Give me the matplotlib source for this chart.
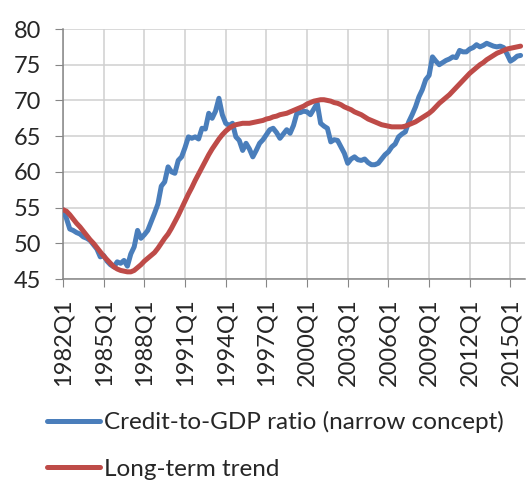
import matplotlib
matplotlib.use("Agg")
import matplotlib.pyplot as plt
import numpy as np

plt.rcParams['font.family'] = ['Lato', 'DejaVu Sans']

# quarterly data 1982Q1 .. 2015Q4
credit_to_gdp = [
    54.7, 53.5, 52.0, 51.8,   # 1982
    51.5, 51.3, 50.9, 50.7,   # 1983
    50.4, 49.8, 49.2, 48.1,   # 1984
    48.3, 47.5, 47.0, 46.7,   # 1985
    47.4, 47.2, 47.6, 46.8,   # 1986
    48.5, 49.5, 51.8, 50.7,   # 1987
    51.2, 51.8, 53.0, 54.2,   # 1988
    55.5, 58.0, 58.6, 60.7,   # 1989
    60.0, 59.8, 61.6, 62.1,   # 1990
    63.4, 64.9, 64.7, 64.9,   # 1991
    64.6, 66.1, 66.0, 68.2,   # 1992
    67.5, 68.5, 70.3, 68.0,   # 1993
    66.8, 66.5, 66.8, 64.9,   # 1994
    64.4, 63.0, 64.0, 63.2,   # 1995
    62.1, 63.0, 64.0, 64.5,   # 1996
    65.2, 65.9, 66.1, 65.5,   # 1997
    64.7, 65.3, 65.9, 65.4,   # 1998
    66.5, 68.2, 68.3, 68.5,   # 1999
    68.4, 68.0, 68.8, 69.6,   # 2000
    66.8, 66.4, 66.1, 64.2,   # 2001
    64.5, 64.4, 63.5, 62.6,   # 2002
    61.2, 61.8, 62.1, 61.7,   # 2003
    61.6, 61.8, 61.3, 61.0,   # 2004
    61.0, 61.2, 61.8, 62.4,   # 2005
    62.8, 63.5, 63.9, 64.9,   # 2006
    65.3, 65.6, 67.0, 68.0,   # 2007
    69.1, 70.5, 71.5, 72.9,   # 2008
    73.5, 76.1, 75.5, 75.0,   # 2009
    75.3, 75.6, 75.8, 76.1,   # 2010
    76.0, 77.0, 76.8, 76.8,   # 2011
    77.2, 77.4, 77.8, 77.5,   # 2012
    77.7, 78.0, 77.8, 77.6,   # 2013
    77.5, 77.6, 77.4, 76.5,   # 2014
    75.5, 75.8, 76.2, 76.3,   # 2015
]

long_term_trend = [
    54.7, 54.5, 54.0, 53.4,
    52.8, 52.3, 51.7, 51.1,
    50.5, 50.0, 49.4, 48.8,
    48.2, 47.7, 47.2, 46.7,
    46.4, 46.2, 46.1, 46.0,
    46.0, 46.2, 46.6, 47.0,
    47.5, 47.9, 48.3, 48.7,
    49.3, 50.0, 50.7, 51.3,
    52.1, 53.0, 53.9, 54.9,
    55.9, 56.9, 57.8, 58.8,
    59.7, 60.6, 61.5, 62.4,
    63.2, 63.9, 64.6, 65.2,
    65.7, 66.1, 66.4, 66.6,
    66.7, 66.8, 66.8, 66.8,
    66.9, 67.0, 67.1, 67.2,
    67.4, 67.5, 67.7, 67.8,
    68.0, 68.1, 68.2, 68.4,
    68.6, 68.8, 69.0, 69.2,
    69.5, 69.7, 69.9, 70.0,
    70.1, 70.1, 70.0, 69.9,
    69.7, 69.6, 69.4, 69.1,
    68.9, 68.7, 68.4, 68.2,
    68.0, 67.7, 67.4, 67.2,
    67.0, 66.8, 66.6, 66.5,
    66.4, 66.3, 66.3, 66.3,
    66.3, 66.4, 66.6, 66.8,
    67.0, 67.3, 67.6, 67.9,
    68.2, 68.6, 69.1, 69.6,
    70.0, 70.4, 70.8, 71.3,
    71.8, 72.3, 72.8, 73.3,
    73.8, 74.2, 74.6, 75.0,
    75.3, 75.7, 76.0, 76.3,
    76.6, 76.8, 77.0, 77.2,
    77.3, 77.4, 77.5, 77.6,
]

start_year = 1982
quarters = [f"{start_year + i // 4}Q{i % 4 + 1}" for i in range(len(credit_to_gdp))]
tick_step = 12  # every three years

x = np.arange(len(quarters))

fig = plt.figure(figsize=(5.26, 4.8), dpi=100)
ax = fig.add_axes([63 / 526, 1 - 279 / 480, 462 / 526, 250 / 480])

ax.plot(x, credit_to_gdp, color='#4A7EBB', lw=3.6, solid_capstyle='round',
        solid_joinstyle='round', label='Credit-to-GDP ratio (narrow concept)', zorder=3)
ax.plot(x, long_term_trend, color='#BE4B48', lw=3.6, solid_capstyle='round',
        solid_joinstyle='round', label='Long-term trend', zorder=4)

ax.set_ylim(45, 80)
ax.set_yticks(np.arange(45, 81, 5))
ax.set_xlim(0, 136.3)
ax.set_xticks(x[::tick_step])
ax.set_xticklabels(quarters[::tick_step], rotation=90, fontsize=17, color='#262626')
ax.tick_params(axis='y', labelsize=17, labelcolor='#262626', length=6, pad=10, color='#868686')
ax.tick_params(axis='x', length=6, pad=8, color='#868686')

ax.grid(True, color='#D0D0D0', lw=1.1)
ax.set_axisbelow(True)
for side in ['top', 'right']:
    ax.spines[side].set_visible(False)
for side in ['left', 'bottom']:
    ax.spines[side].set_color('#868686')
    ax.spines[side].set_linewidth(1.1)

fig.legend(loc='upper left', bbox_to_anchor=(47 / 526, 1 - 411 / 480), frameon=False,
           fontsize=17.5, handlelength=2.2, handletextpad=0.15, labelspacing=1.05,
           borderpad=0, borderaxespad=0, labelcolor='#262626')

fig.savefig('out.png', dpi=100)
